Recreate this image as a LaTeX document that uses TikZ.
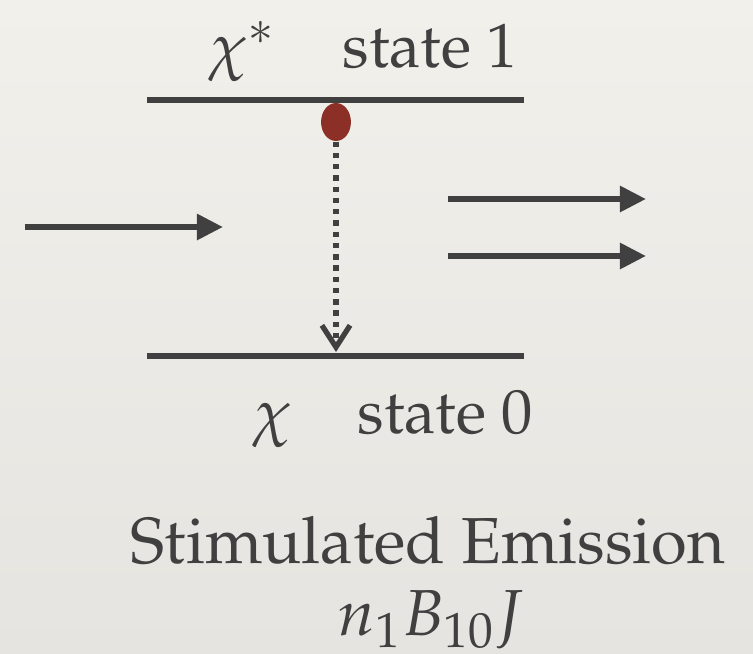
\documentclass[tikz,border=0pt]{standalone}
\usepackage[T1]{fontenc}
\usepackage{mathpazo}
\usetikzlibrary{arrows.meta,shapes.geometric}

\definecolor{ink}{HTML}{404040}
\definecolor{paperhi}{HTML}{F2F0EB}
\definecolor{paperlo}{HTML}{E6E4E0}
\definecolor{blood}{HTML}{8B2F27}

\tikzstyle{lvl} = [line width=1.7pt, draw=ink]
\tikzstyle{photon} = [line width=1.7pt, draw=ink, -{Triangle[length=7.4pt,width=7.1pt]}]
\tikzstyle{decay} = [line width=1.5pt, draw=ink, dash pattern=on 1.5pt off 1.7pt, -{Straight Barb[length=6.2pt,width=8pt]}]
\tikzstyle{electron} = [ellipse, fill=blood, minimum width=8.5pt, minimum height=10.8pt, inner sep=0pt]
\tikzstyle{lbl} = [inner sep=0pt, text=ink, font=\fontsize{18.5}{22}\selectfont]
\tikzstyle{slbl} = [inner sep=0pt, text=ink, font=\fontsize{17.8}{21}\selectfont]

\begin{document}
\begin{tikzpicture}[x=0.01cm, y=-0.01cm]
\useasboundingbox (0,0) rectangle (753,654);
\shade[top color=paperhi, bottom color=paperlo] (0,0) rectangle (753,654);

\coordinate (up1) at (147,100);
\coordinate (up2) at (524,100);
\coordinate (lo1) at (147,356);
\coordinate (lo2) at (524,356);
\draw[lvl] (up1) -- (up2);
\draw[lvl] (lo1) -- (lo2);

\node[electron] (dot) at (336,122) {};
\coordinate (tip) at (336,352);
\draw[decay] (dot.south) -- (tip);

\coordinate (in1) at (25,227);
\coordinate (in2) at (223,227);
\draw[photon] (in1) -- (in2);
\coordinate (outa1) at (448,199);
\coordinate (outa2) at (646,199);
\draw[photon] (outa1) -- (outa2);
\coordinate (outb1) at (448,256);
\coordinate (outb2) at (646,256);
\draw[photon] (outb1) -- (outb2);

\node[slbl, anchor=base west] (chistar) at (208,67) {$\chi^{*}$};
\node[slbl, anchor=base west] (state1) at (342,67) {state 1};
\node[slbl, anchor=base west] (chi) at (252,433) {$\chi$};
\node[slbl, anchor=base west] (state0) at (357,433) {state 0};
\node[lbl, anchor=base] (title) at (428,563) {Stimulated Emission};
\node[lbl, anchor=base] (rate) at (431,635) {$n_1B_{10}J$};
\end{tikzpicture}
\end{document}
